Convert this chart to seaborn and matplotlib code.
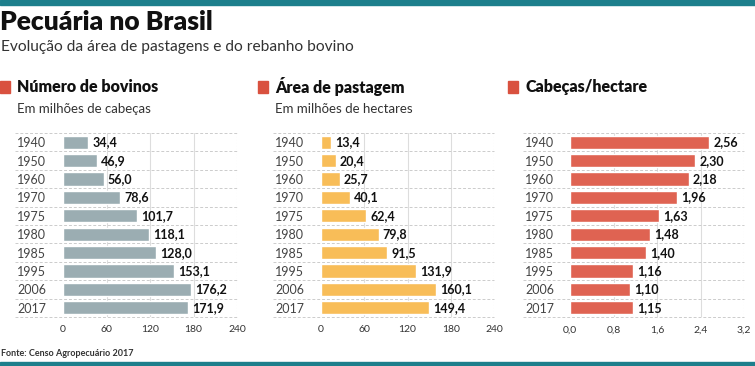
import matplotlib
matplotlib.use("Agg")
import matplotlib.pyplot as plt
import seaborn as sns
import pandas as pd

# data
anos = ["1940", "1950", "1960", "1970", "1975", "1980", "1985", "1995", "2006", "2017"]
bovinos = [34.4, 46.9, 56.0, 78.6, 101.7, 118.1, 128.0, 153.1, 176.2, 171.9]
pastagem = [13.4, 20.4, 25.7, 40.1, 62.4, 79.8, 91.5, 131.9, 160.1, 149.4]
cab_ha = [2.56, 2.30, 2.18, 1.96, 1.63, 1.48, 1.40, 1.16, 1.10, 1.15]

titulos = ["Número de bovinos", "Área de pastagem", "Cabeças/hectare"]
subtitulos = ["Em milhões de cabeças", "Em milhões de hectares", ""]
ticks_x = [[0, 60, 120, 180, 240], [0, 60, 120, 180, 240], [0.0, 0.8, 1.6, 2.4, 3.2]]
cores = ["#9badb2", "#f8bd58", "#df6352"]

sns.set_style("white")
plt.rcParams["font.family"] = ["Lato", "DejaVu Sans"]

W, H = 755, 366
fig = plt.figure(figsize=(W / 100, H / 100), dpi=100)
fig.patch.set_facecolor("white")


def px(x0, y0, x1, y1):
    return [x0 / W, 1 - y1 / H, (x1 - x0) / W, (y1 - y0) / H]


# teal bars at top and bottom
fig.add_artist(plt.Rectangle((0, 1 - 5 / H), 1, 5 / H, transform=fig.transFigure, color="#1d7f8c"))
fig.add_artist(plt.Rectangle((0, 0), 1, 4 / H, transform=fig.transFigure, color="#1d7f8c"))

fig.text(0, 1 - 22 / H, "Pecuária no Brasil", fontsize=19, fontweight="heavy",
         va="center", color="#111111")
fig.text(1 / W, 1 - 47 / H, "Evolução da área de pastagens e do rebanho bovino",
         fontsize=11.2, va="center", color="#333333")
fig.text(1 / W, 1 - 354 / H, "Fonte: Censo Agropecuário 2017", fontsize=6.5,
         fontweight="bold", va="center", color="#333333")

series = [bovinos, pastagem, cab_ha]
lefts = [(0, 63, 237), (258, 321, 494), (508, 570, 744)]

for i, vals in enumerate(series):
    sq, x0, x1 = lefts[i]
    tx = sq + 17
    fig.add_artist(plt.Rectangle((sq / W, 1 - 93 / H), 10 / W, 12 / H,
                                 transform=fig.transFigure, color="#d9513f"))
    fig.text(tx / W, 1 - 87 / H, titulos[i], fontsize=11.5, fontweight="heavy",
             va="center", color="#111111")
    if subtitulos[i]:
        fig.text(tx / W, 1 - 109 / H, subtitulos[i], fontsize=9.5, va="center", color="#333333")

    ax = fig.add_axes(px(x0, 133, x1, 317))
    df = pd.DataFrame({"ano": anos, "valor": vals})
    sns.barplot(data=df, x="valor", y="ano", orient="h", color=cores[i],
                width=0.72, saturation=1, ax=ax, zorder=3)
    ax.set_xlim(ticks_x[i][0], ticks_x[i][-1])
    ax.set_ylim(9.5, -0.5)
    ax.set_xlabel("")
    ax.set_ylabel("")
    for s in ax.spines.values():
        s.set_visible(False)
    ax.set_xticks(ticks_x[i])
    if i < 2:
        ax.set_xticklabels([str(t) for t in ticks_x[i]])
    else:
        ax.set_xticklabels([f"{t:.1f}".replace(".", ",") for t in ticks_x[i]])
    ax.tick_params(axis="x", length=0, pad=6, labelsize=7.5, labelcolor="#333333")
    ax.tick_params(axis="y", length=0, pad=(x0 - tx) * 0.72, labelsize=9, labelcolor="#444444")
    for lab in ax.get_yticklabels():
        lab.set_horizontalalignment("left")
    for t in ticks_x[i][1:]:
        ax.axvline(t, color="#dddddd", lw=0.8, zorder=1,
                   ls=":" if t == ticks_x[i][-1] else "-")
    for k in range(len(anos) + 1):
        y = k - 0.5
        ax.plot([-(x0 - tx + 2) / (x1 - x0), 1], [y, y], transform=ax.get_yaxis_transform(),
                color="#cccccc", lw=0.7, ls=(0, (3, 2)), clip_on=False, zorder=1)
    fmt = "{:.1f}" if i < 2 else "{:.2f}"
    labels = [fmt.format(v).replace(".", ",") for v in vals]
    ax.bar_label(ax.containers[0], labels=labels, padding=3, fontsize=9,
                 fontweight="bold", color="#111111")

fig.savefig("out.png", dpi=100, facecolor="white")
